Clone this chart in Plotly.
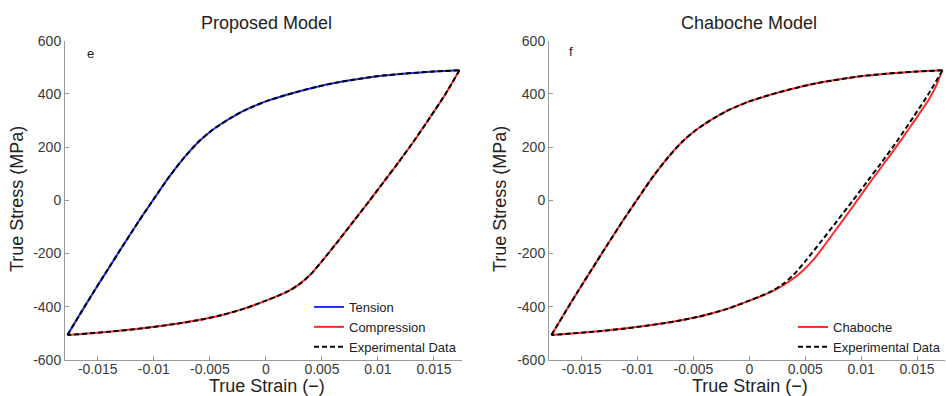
import plotly.graph_objects as go

# ---------------- data ----------------
# Experimental loop: upper (loading / tension) branch
exp_up_strain = [-0.01770, -0.01650, -0.01530, -0.01400, -0.01270, -0.01130, -0.01000,
                 -0.00860, -0.00720, -0.00600, -0.00500, -0.00400, -0.00300, -0.00200,
                 -0.00100, 0.00000, 0.00150, 0.00300, 0.00450, 0.00600, 0.00750,
                 0.00900, 0.01050, 0.01200, 0.01350, 0.01500, 0.01727]
exp_up_stress = [-506, -422, -340, -253, -167, -76, 5,
                 90, 165, 220, 257, 287, 313, 336,
                 355, 372, 392, 410, 426, 440, 451,
                 461, 469, 475, 480, 484, 489]
# Experimental loop: lower (unloading / compression) branch
exp_low_strain = [0.01727, 0.01600, 0.01470, 0.01320, 0.01180, 0.01060, 0.00920, 0.00780,
                  0.00650, 0.00510, 0.00400, 0.00300, 0.00200, 0.00100, 0.00000, -0.00100,
                  -0.00200, -0.00400, -0.00600, -0.00800, -0.01100, -0.01400, -0.01770]
exp_low_stress = [489, 398, 315, 222, 141, 74, -4, -80,
                  -150, -224, -278, -315, -341, -360, -377, -393,
                  -408, -432, -450, -464, -481, -494, -506]

# Proposed model (virtually coincides with the experiment)
prop_ten_strain = list(exp_up_strain)
prop_ten_stress = list(exp_up_stress)
prop_com_strain = list(exp_low_strain)
prop_com_stress = list(exp_low_stress)

# Chaboche model
chab_up_strain = list(exp_up_strain)
chab_up_stress = list(exp_up_stress)
chab_low_strain = [0.01727, 0.01670, 0.01610, 0.01540, 0.01470, 0.01380, 0.01260, 0.01110,
                   0.00960, 0.00810, 0.00660, 0.00570, 0.00480, 0.00400, 0.00300, 0.00200,
                   0.00100, 0.00000, -0.00100, -0.00200, -0.00400, -0.00600, -0.00800,
                   -0.01100, -0.01400, -0.01770]
chab_low_stress = [489, 430, 382, 338, 295, 240, 170, 85,
                   -3, -90, -176, -225, -264, -292, -320, -343,
                   -361, -377, -393, -408, -432, -450, -464,
                   -481, -494, -506]

x_tick_vals = [-0.015, -0.01, -0.005, 0, 0.005, 0.01, 0.015]
x_tick_text = ["-0.015", "-0.01", "-0.005", "0", "0.005", "0.01", "0.015"]
y_tick_vals = [-600, -400, -200, 0, 200, 400, 600]
y_tick_text = ["-600", "-400", "-200", "0", "200", "400", "600"]

titles = ["Proposed Model", "Chaboche Model"]
panel_letters = ["e", "f"]
x_title = "True Strain (\u2212)"
y_title = "True Stress (MPa)"

# ---------------- figure ----------------
W, H = 946, 396
FONT = "Liberation Sans, Arial, Helvetica, sans-serif"
BLUE = "#1f2dff"
RED = "#ff2a2a"
DASH = "5px,3px"
LW = 2

fig = go.Figure()

spl = dict(shape="spline", smoothing=0.8)

# left panel
fig.add_trace(go.Scatter(x=prop_ten_strain, y=prop_ten_stress, mode="lines", name="Tension",
                         line=dict(color=BLUE, width=LW, **spl), xaxis="x", yaxis="y", legend="legend"))
fig.add_trace(go.Scatter(x=prop_com_strain, y=prop_com_stress, mode="lines", name="Compression",
                         line=dict(color=RED, width=LW, **spl), xaxis="x", yaxis="y", legend="legend"))
fig.add_trace(go.Scatter(x=exp_up_strain, y=exp_up_stress, mode="lines", name="Experimental Data",
                         legendgroup="e1", line=dict(color="black", width=LW, dash=DASH, **spl),
                         xaxis="x", yaxis="y", legend="legend"))
fig.add_trace(go.Scatter(x=exp_low_strain, y=exp_low_stress, mode="lines", name="Experimental Data",
                         legendgroup="e1", showlegend=False,
                         line=dict(color="black", width=LW, dash=DASH, **spl), xaxis="x", yaxis="y"))

# right panel
fig.add_trace(go.Scatter(x=chab_up_strain, y=chab_up_stress, mode="lines", name="Chaboche",
                         legendgroup="c", line=dict(color=RED, width=LW, **spl),
                         xaxis="x2", yaxis="y2", legend="legend2"))
fig.add_trace(go.Scatter(x=chab_low_strain, y=chab_low_stress, mode="lines", name="Chaboche",
                         legendgroup="c", showlegend=False, line=dict(color=RED, width=LW, **spl),
                         xaxis="x2", yaxis="y2"))
fig.add_trace(go.Scatter(x=exp_up_strain, y=exp_up_stress, mode="lines", name="Experimental Data",
                         legendgroup="e2", line=dict(color="black", width=LW, dash=DASH, **spl),
                         xaxis="x2", yaxis="y2", legend="legend2"))
fig.add_trace(go.Scatter(x=exp_low_strain, y=exp_low_stress, mode="lines", name="Experimental Data",
                         legendgroup="e2", showlegend=False,
                         line=dict(color="black", width=LW, dash=DASH, **spl), xaxis="x2", yaxis="y2"))

px_x = lambda p: p / W
px_y = lambda p: (H - p) / H

xdom1 = [px_x(65), px_x(462)]
xdom2 = [px_x(549), px_x(945)]
ydom = [px_y(360), px_y(40.7)]

axis_common = dict(showline=True, linecolor="#9a9a9a", linewidth=1, mirror=False,
                   ticks="inside", ticklen=4, tickcolor="#9a9a9a", tickwidth=1,
                   showgrid=False, zeroline=False, automargin=False,
                   tickfont=dict(family=FONT, size=14, color="#3a3a3a"))
xr = [-0.01792, 0.0175]
yr = [-600, 600]

fig.update_layout(
    width=W, height=H,
    margin=dict(l=0, r=0, t=0, b=0),
    paper_bgcolor="white", plot_bgcolor="white",
    font=dict(family=FONT, color="#222222"),
    xaxis=dict(domain=xdom1, range=xr, tickvals=x_tick_vals, ticktext=x_tick_text,
               anchor="y", ticklabelstandoff=-4, **axis_common),
    yaxis=dict(domain=ydom, range=yr, tickvals=y_tick_vals, ticktext=y_tick_text,
               anchor="x", **axis_common),
    xaxis2=dict(domain=xdom2, range=xr, tickvals=x_tick_vals, ticktext=x_tick_text,
                anchor="y2", ticklabelstandoff=-4, **axis_common),
    yaxis2=dict(domain=ydom, range=yr, tickvals=y_tick_vals, ticktext=y_tick_text,
                anchor="x2", **axis_common),
    legend=dict(x=px_x(462), xanchor="right", y=px_y(362), yanchor="bottom",
                bgcolor="rgba(0,0,0,0)", font=dict(family=FONT, size=13, color="#222222"),
                itemwidth=30, tracegroupgap=0),
    legend2=dict(x=px_x(946), xanchor="right", y=px_y(362), yanchor="bottom",
                 bgcolor="rgba(0,0,0,0)", font=dict(family=FONT, size=13, color="#222222"),
                 itemwidth=30, tracegroupgap=0),
    showlegend=True,
)

ann = []
title_font = dict(family=FONT, size=18, color="#222222")
for cx, t in zip([266, 749], titles):
    ann.append(dict(text=t, x=px_x(cx), y=px_y(23), xref="paper", yref="paper",
                    xanchor="center", yanchor="middle", showarrow=False, font=title_font))
for cx in [267, 750]:
    ann.append(dict(text=x_title, x=px_x(cx), y=px_y(386), xref="paper", yref="paper",
                    xanchor="center", yanchor="middle", showarrow=False, font=title_font))
for cx in [17, 500]:
    ann.append(dict(text=y_title, x=px_x(cx), y=px_y(199), xref="paper", yref="paper",
                    xanchor="center", yanchor="middle", showarrow=False, textangle=-90,
                    font=title_font))
for (cx, cy), t in zip([(90, 53), (571, 52)], panel_letters):
    ann.append(dict(text=t, x=px_x(cx), y=px_y(cy), xref="paper", yref="paper",
                    xanchor="center", yanchor="middle", showarrow=False,
                    font=dict(family=FONT, size=13, color="#222222")))
fig.update_layout(annotations=ann)

fig.write_html("out.html")
